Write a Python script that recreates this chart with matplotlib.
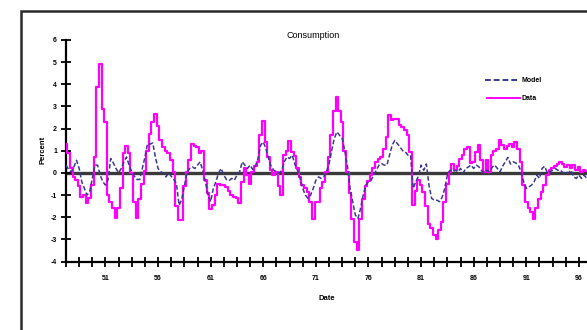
import numpy as np
import matplotlib
matplotlib.use("Agg")
import matplotlib.pyplot as plt
from matplotlib.patches import Rectangle
from matplotlib.ticker import MultipleLocator, FixedLocator

plt.rcParams['font.family'] = ['Liberation Sans', 'DejaVu Sans']

# Quarterly observations starting 1947 Q2
start_year = 1947.25
quarter = 0.25

data_vals = [
    1.3, 0.9, 0.2,
    -0.2, -0.3, -0.6, -1.1,
    -1.0, -1.35, -1.15, -0.55,
    0.7, 3.9, 4.9, 2.9,
    2.3, -1.0, -1.3, -1.6,
    -2.05, -1.6, -0.7, 0.9,
    1.2, 0.9, 0.0, -1.3,
    -2.05, -1.2, -0.5, 0.1,
    1.0, 1.75, 2.3, 2.65,
    2.1, 1.5, 1.17, 1.0,
    0.9, 0.6, 0.05, -1.5,
    -2.13, -2.13, -0.6, 0.05,
    0.6, 1.3, 1.2, 1.17,
    0.9, 1.0, -0.3, -0.9,
    -1.65, -1.45, -1.0, -0.5,
    -0.55, -0.55, -0.63, -0.8,
    -1.0, -1.1, -1.15, -1.35,
    -0.4, 0.2, -0.1, -0.5,
    0.05, 0.3, 0.5, 1.7,
    2.35, 1.4, 0.7, 0.15,
    -0.1, 0.05, -0.6, -1.0,
    0.8, 1.0, 1.45, 0.95,
    0.75, 0.2, -0.18, -0.55,
    -0.7, -0.85, -1.3, -2.06,
    -1.3, -1.3, -0.7, -0.4,
    0.05, 0.7, 1.7, 2.8,
    3.42, 2.8, 2.3, 1.0,
    0.05, -0.9, -2.06, -3.1,
    -3.5, -2.1, -1.2, -0.6,
    -0.35, -0.1, 0.2, 0.5,
    0.65, 0.72, 1.1, 1.6,
    2.6, 2.4, 2.45, 2.45,
    2.15, 2.07, 1.92, 1.7,
    0.95, -1.46, -0.8, -0.3,
    -0.55, -0.85, -1.5, -2.3,
    -2.5, -2.8, -3.0, -2.6,
    -2.2, -1.3, -0.5, 0.05,
    0.4, 0.12, 0.3, 0.65,
    0.8, 1.1, 1.17, 0.45,
    0.5, 0.95, 1.25, 0.6,
    0.05, 0.6, 0.05, 0.8,
    1.0, 1.1, 1.47, 1.25,
    1.1, 1.2, 1.3, 1.17,
    1.4, 1.1, 0.5, -0.55,
    -1.3, -1.6, -1.76, -2.1,
    -1.6, -1.2, -0.85, -0.55,
    -0.1, 0.12, 0.2, 0.3,
    0.4, 0.5, 0.42, 0.27,
    0.35, 0.2, 0.35, 0.12,
    0.27, 0.05, 0.12, 0.1,
]

model_vals = [
    0.35, 0.15, 0.05,
    0.27, 0.57, 0.2, -0.4,
    -0.7, -1.0, -0.85, -0.25,
    0.35, 0.35, -0.1, -0.4,
    -0.55, -0.3, 0.65, 0.45,
    0.2, 0.0, 0.2, 0.5,
    0.72, 0.35, 0.05, -0.15,
    -0.3, -0.3, 0.2, 0.7,
    1.32, 1.3, 1.35, 0.7,
    0.2, 0.05, 0.0, -0.18,
    0.0, -0.15, -0.3, -0.5,
    -1.46, -1.2, -0.6, 0.0,
    0.2, 0.27, 0.2, 0.35,
    0.5, 0.1, -0.4, -1.0,
    -1.3, -0.7, -0.4, 0.0,
    0.2, -0.1, -0.3, -0.35,
    -0.25, -0.33, -0.1, 0.05,
    0.5, 0.35, 0.2, 0.35,
    0.15, 0.3, 0.65, 1.25,
    1.4, 1.1, 0.65, 0.3,
    0.12, 0.05, 0.0, 0.1,
    0.5, 0.72, 0.65, 0.8,
    0.4, 0.12, -0.25, -0.7,
    -1.0, -1.15, -1.0, -0.7,
    -0.33, -0.18, -0.25, -0.18,
    0.05, 0.4, 1.0, 1.55,
    1.85, 1.7, 1.55, 1.0,
    0.3, -0.7, -1.3, -1.9,
    -2.06, -1.6, -1.0, -0.55,
    -0.4, -0.33, -0.1, 0.12,
    0.35, 0.42, 0.35, 0.35,
    0.8, 1.25, 1.47, 1.32,
    1.17, 1.0, 0.95, 0.8,
    0.8, -0.7, -0.4, -0.15,
    0.35, 0.12, 0.4, -0.55,
    -1.15, -1.23, -1.23, -1.3,
    -1.1, -0.7, -0.1, 0.12,
    0.05, 0.12, 0.05, 0.2,
    0.0, 0.2, 0.27, 0.35,
    0.2, 0.35, 0.27, 0.1,
    0.0, 0.12, 0.05, 0.25,
    0.35, 0.2, 0.05, 0.3,
    0.5, 0.7, 0.4, 0.5,
    0.45, 0.35, 0.05, -0.4,
    -0.7, -0.63, -0.55, -0.4,
    -0.1, -0.25, 0.2, 0.3,
    0.0, 0.05, 0.12, 0.2,
    0.12, 0.12, 0.0, 0.05,
    0.0, 0.12, -0.18, -0.25,
    -0.1, -0.25, -0.1, -0.25,
]

label_years = [1951, 1956, 1961, 1966, 1971, 1976, 1981, 1986, 1991, 1996]
label_text = ["51", "56", "61", "66", "71", "76", "81", "86", "91", "96"]
y_ticks = [-4, -3, -2, -1, 0, 1, 2, 3, 4, 5, 6]

t_data = start_year + quarter * np.arange(len(data_vals))
t_model = start_year + quarter * np.arange(len(model_vals))

W, H = 587, 330
fig = plt.figure(figsize=(W / 100, H / 100), dpi=100)
fig.patch.set_facecolor('white')

# outer chart border
fig.patches.append(Rectangle((20.5 / W, -0.2), 2.0, 1.2 - 10.5 / H,
                             transform=fig.transFigure, fill=False,
                             edgecolor='#2a2a2a', lw=1.8, clip_on=False))

left, right = 66 / W, 1.0
bottom, top = 1 - 261.5 / H, 1 - 40 / H
ax = fig.add_axes([left, bottom, right - left, top - bottom])

ax.axhline(0, color='#3a3a3a', lw=2.4, zorder=1.5)
ax.plot(t_data, data_vals, color='#FF00FF', lw=1.6, drawstyle='steps-mid',
        zorder=3, label='Data')
ax.plot(t_model, model_vals, color='#3a3a8c', lw=1.1, ls=(0, (3, 1.5)),
        zorder=4, label='Model')

ax.set_xlim(1947.25, 1996.77)
ax.set_ylim(-4, 6)

for s in ['top', 'right']:
    ax.spines[s].set_visible(False)
for s in ['left', 'bottom']:
    ax.spines[s].set_linewidth(1.6)
    ax.spines[s].set_color('black')

ax.set_yticks(y_ticks)
ax.set_yticklabels([str(v) for v in y_ticks], fontsize=5, fontweight='bold')
ax.xaxis.set_major_locator(FixedLocator(label_years))
ax.set_xticklabels(label_text, fontsize=5, fontweight='bold')
ax.xaxis.set_minor_locator(MultipleLocator(1.25, offset=1951 % 1.25))
ax.tick_params(axis='both', which='both', direction='inout', length=7,
               width=1.3, color='black', pad=5)
ax.tick_params(axis='y', pad=3)
ax.tick_params(axis='x', which='major', pad=6)

fig.text(313 / W, 1 - 35 / H, 'Consumption', ha='center', va='center',
         fontsize=6.5)
fig.text(43 / W, 1 - 150 / H, 'Percent', ha='center', va='center',
         rotation=90, fontsize=5.5, fontweight='bold')
fig.text(327 / W, 1 - 298 / H, 'Date', ha='center', va='center',
         fontsize=5.5, fontweight='bold')

# legend drawn manually in figure coordinates
fig.lines.append(plt.Line2D([485 / W, 518 / W], [1 - 80 / H, 1 - 80 / H],
                            transform=fig.transFigure, color='#3a3a8c',
                            lw=1.4, ls=(0, (3, 1.5))))
fig.lines.append(plt.Line2D([487 / W, 520 / W], [1 - 98 / H, 1 - 98 / H],
                            transform=fig.transFigure, color='#FF00FF',
                            lw=1.4))
fig.text(521 / W, 1 - 80 / H, 'Model', ha='left', va='center', fontsize=5,
         fontweight='bold')
fig.text(522 / W, 1 - 98 / H, 'Data', ha='left', va='center', fontsize=5,
         fontweight='bold')

fig.savefig('out.png', dpi=100)
